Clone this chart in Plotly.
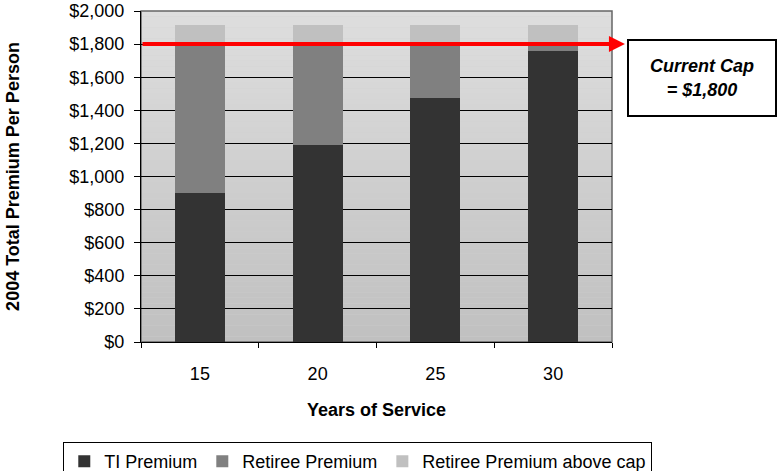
import plotly.graph_objects as go

# Years of service categories and premium components (2004, per person)
years = ["15", "20", "25", "30"]
ti_premium = [900, 1190, 1475, 1760]
retiree_premium = [900, 610, 325, 40]
retiree_above_cap = [115, 115, 115, 115]
cap_value = 1800
y_ticks = [0, 200, 400, 600, 800, 1000, 1200, 1400, 1600, 1800, 2000]
y_tick_labels = ["$0", "$200", "$400", "$600", "$800", "$1,000", "$1,200",
                 "$1,400", "$1,600", "$1,800", "$2,000"]

FONT = "Liberation Sans, Arial, sans-serif"

fig = go.Figure()
fig.add_trace(go.Bar(x=years, y=ti_premium, name="TI Premium",
                     marker=dict(color="#333333", line=dict(width=0))))
fig.add_trace(go.Bar(x=years, y=retiree_premium, name="Retiree Premium",
                     marker=dict(color="#808080", line=dict(width=0))))
fig.add_trace(go.Bar(x=years, y=retiree_above_cap, name="Retiree Premium above cap",
                     marker=dict(color="#c0c0c0", line=dict(width=0))))

# vertical grey gradient behind the plot area
shapes = []
n_bands = 60
top = y_ticks[-1]
for i in range(n_bands):
    f = (i + 0.5) / n_bands
    g = int(round(192 + 30 * f))
    shapes.append(dict(type="rect", xref="paper", yref="y", layer="below",
                       x0=0, x1=1, y0=top * i / n_bands, y1=top * (i + 1) / n_bands,
                       fillcolor=f"rgb({g},{g},{g})", line=dict(width=0)))
# plot frame
shapes.append(dict(type="rect", xref="paper", yref="paper", layer="below",
                   x0=0, x1=1, y0=0, y1=1, line=dict(color="#666666", width=1.5)))

annotations = [
    # red cap line with arrow pointing to the label box
    dict(x=3.61, y=cap_value, xref="x", yref="y",
         ax=-0.5, ay=cap_value, axref="x", ayref="y",
         showarrow=True, arrowhead=2, arrowsize=0.8, arrowwidth=4,
         arrowcolor="#ff0000", text=""),
    dict(x=1.192, y=0.798, xref="paper", yref="paper",
         xanchor="center", yanchor="middle",
         text="<b><i>Current Cap<br>= $1,800</i></b>", showarrow=False,
         font=dict(family=FONT, size=18, color="black"),
         bgcolor="white", bordercolor="black", borderwidth=2, borderpad=0,
         width=146, height=74, align="center", valign="middle"),
]

fig.update_layout(
    width=777, height=471,
    margin=dict(l=141, r=165, t=11, b=129, autoexpand=False),
    barmode="stack", bargap=0.575,
    paper_bgcolor="white", plot_bgcolor="#d0d0d0",
    font=dict(family=FONT, size=18, color="black"),
    shapes=shapes, annotations=annotations,
    showlegend=True,
    legend=dict(orientation="h", x=-0.165, xanchor="left", y=-0.302, yanchor="top",
                traceorder="normal", bordercolor="black", borderwidth=1,
                bgcolor="white", font=dict(family=FONT, size=18, color="black"),
                itemwidth=30),
    xaxis=dict(
        title=dict(text="<b>Years of Service</b>", font=dict(size=18), standoff=20),
        showline=True, linecolor="black", linewidth=1,
        ticks="outside", tickson="boundaries", ticklen=5, tickcolor="black",
        showgrid=False, range=[-0.5, 3.5], fixedrange=True,
        tickfont=dict(size=18), ticklabelstandoff=15, automargin=False,
    ),
    yaxis=dict(
        title=dict(text="<b>2004 Total Premium Per Person</b>", font=dict(size=18), standoff=45),
        range=[0, 2000], tickvals=y_ticks, ticktext=y_tick_labels,
        showline=True, linecolor="black", linewidth=1,
        ticks="outside", ticklen=6, tickcolor="black",
        showgrid=True, gridcolor="black", gridwidth=1,
        tickfont=dict(size=18), ticklabelstandoff=6,
        zeroline=False, automargin=False,
    ),
)

fig.write_html("out.html")
